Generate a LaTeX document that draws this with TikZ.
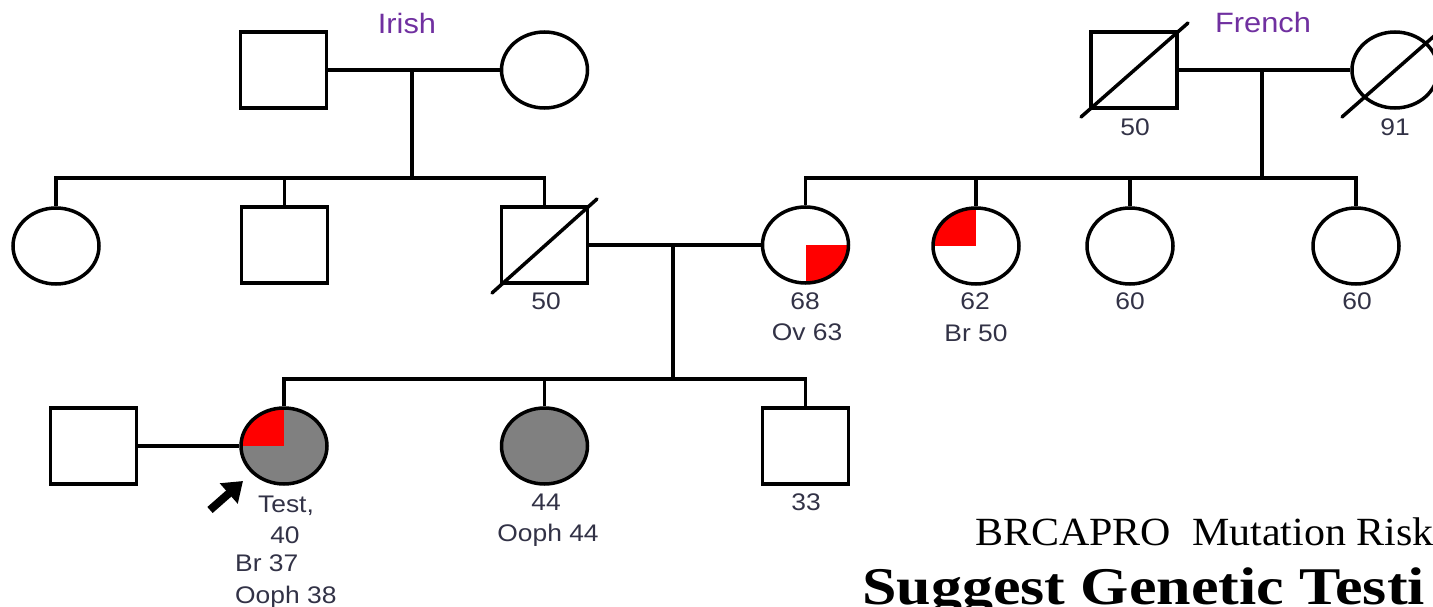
\documentclass[tikz,border=0pt]{standalone}
\usepackage{fontspec}
\setmainfont{Liberation Sans}
\newfontfamily\lblfont[FakeStretch=1.1]{Liberation Sans}
\newfontfamily\riskfont[FakeStretch=1.05]{Liberation Serif}
\newfontfamily\advicefont[FakeStretch=1.17]{Liberation Serif}
\usetikzlibrary{arrows.meta,shapes.geometric}
\definecolor{labelgray}{RGB}{50,50,70}
\definecolor{ethpurple}{RGB}{112,48,160}
\definecolor{affgray}{RGB}{128,128,128}
\definecolor{cancerred}{RGB}{255,0,0}
\tikzset{
  male/.style={draw, rectangle, minimum width=86pt, minimum height=76pt, inner sep=0pt, line width=3.5pt},
  female/.style={draw, ellipse, minimum width=86pt, minimum height=76pt, inner sep=0pt, line width=3.5pt},
  affected/.style={fill=affgray},
  quadNW/.style={path picture={\fill[cancerred] (path picture bounding box.center) rectangle (path picture bounding box.north west);}},
  quadSE/.style={path picture={\fill[cancerred] (path picture bounding box.center) rectangle (path picture bounding box.south east);}},
  rel/.style={line width=3.8pt},
  slash/.style={line width=3.5pt, line cap=round},
  lbl/.style={font=\lblfont\fontsize{24}{24}\selectfont, text=labelgray, inner sep=0pt, text height=17pt, text depth=0pt},
  eth/.style={font=\lblfont\fontsize{28}{28}\selectfont, text=ethpurple, inner sep=0pt, text height=20pt, text depth=0pt},
}
\begin{document}
\begin{tikzpicture}[x=1pt,y=-1pt]
\useasboundingbox (0,0) rectangle (1433,607);
\clip (0,0) rectangle (1433,607);

% grandparents
\node[male] (igf) at (283.5,70) {};
\node[female] (igm) at (544.5,70) {};
\node[male] (fgf) at (1134,70) {};
\node[female] (fgm) at (1395,70) {};

% parents' generation
\node[female] (a1) at (56,246) {};
\node[male] (a2) at (284.5,245) {};
\node[male] (dad) at (544.5,245) {};
\node[female,quadSE] (mom) at (805.5,245) {};
\node[female,quadNW] (ma2) at (976,246) {};
\node[female] (ma3) at (1130,246) {};
\node[female] (ma4) at (1356,246) {};

% proband's generation
\node[male] (hus) at (93.5,446) {};
\node[female,affected,quadNW] (pro) at (284,446) {};
\node[female,affected] (sis) at (544.5,446) {};
\node[male] (bro) at (805.5,446) {};

% deceased marks
\draw[slash] ([shift={(-53,47)}]fgf.center) -- ([shift={(54,-47)}]fgf.center);
\draw[slash] ([shift={(-53,47)}]fgm.center) -- ([shift={(54,-47)}]fgm.center);
\draw[slash] ([shift={(-52.5,48)}]dad.center) -- ([shift={(52.5,-46)}]dad.center);

% Irish side
\coordinate (ibar) at (412,178);
\draw[rel] (igf.east) -- (igm.west);
\draw[rel] (ibar |- igf.east) -- (ibar);
\draw[rel] (a1.north) |- (dad.north |- ibar) -- (dad.north);
\draw[rel] (a2.north) -- (a2.north |- ibar);

% French side
\coordinate (fbar) at (1262,178);
\draw[rel] (fgf.east) -- (fgm.west);
\draw[rel] (fbar |- fgf.east) -- (fbar);
\draw[rel] (mom.north) |- (ma4.north |- fbar) -- (ma4.north);
\draw[rel] (ma2.north) -- (ma2.north |- fbar);
\draw[rel] (ma3.north) -- (ma3.north |- fbar);

% parents and children
\coordinate (pbar) at (673,379);
\draw[rel] (dad.east) -- (mom.west);
\draw[rel] (pbar |- dad.east) -- (pbar);
\draw[rel] (pro.north) |- (bro.north |- pbar) -- (bro.north);
\draw[rel] (sis.north) -- (sis.north |- pbar);
\draw[rel] (hus.east) -- (pro.west);

% proband arrow
\coordinate (ptail) at (210,510);
\coordinate (ptip) at (243,481);
\draw[line width=8pt, -{Triangle[length=19pt,width=26pt]}] (ptail) -- (ptip);

% ethnicity
\node[eth] (irish) at (407,24) {Irish};
\node[eth] (french) at (1263,23) {French};

% ages and diagnoses
\node[lbl] (fgfage) at (1135,127) {50};
\node[lbl] (fgmage) at (1395,127) {91};
\node[lbl] (dadage) at (546,301) {50};
\node[lbl] (momage) at (805,301) {68};
\node[lbl] (momdx) at (807,332) {Ov 63};
\node[lbl] (ma2age) at (975,301) {62};
\node[lbl] (ma2dx) at (976,333) {Br 50};
\node[lbl] (ma3age) at (1130,301) {60};
\node[lbl] (ma4age) at (1357,301) {60};
\node[lbl] (proname) at (286,504) {Test,};
\node[lbl] (proage) at (285,535) {40};
\node[lbl, anchor=west] (probr) at (235,563) {Br 37};
\node[lbl, anchor=west] (prooo) at (235,595) {Ooph 38};
\node[lbl] (sisage) at (546,502) {44};
\node[lbl] (sisdx) at (548,533) {Ooph 44};
\node[lbl] (broage) at (806,502) {33};

% risk summary
\node[anchor=base west, inner sep=0pt, font=\riskfont\fontsize{40}{40}\selectfont] (risk) at (975,545) {BRCAPRO\ \ Mutation Risk};
\node[anchor=base west, inner sep=0pt, font=\advicefont\bfseries\fontsize{53}{53}\selectfont] (advice) at (862,604) {Suggest Genetic Testi};
\end{tikzpicture}
\end{document}
